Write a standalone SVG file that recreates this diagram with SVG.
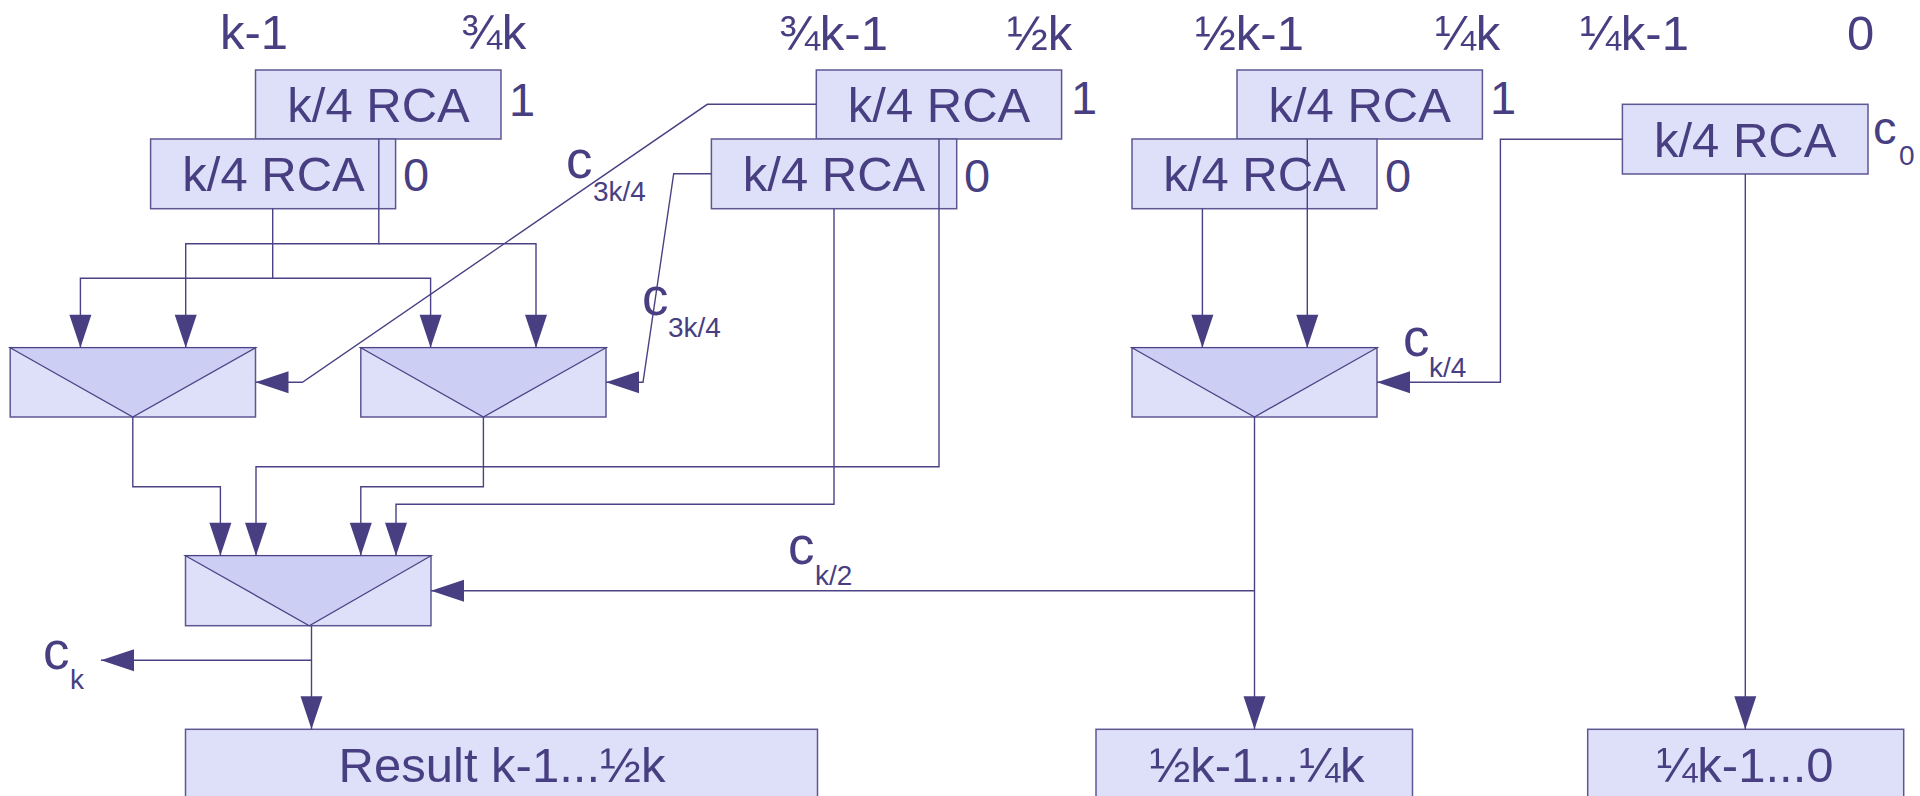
<svg xmlns="http://www.w3.org/2000/svg" width="1920" height="796" viewBox="0 0 1920 796">
<style>
.box{fill:#dedff8;stroke:#5d5794;stroke-width:1.5}
.tri{fill:#cdcef4;stroke:#4a4284;stroke-width:1.3}
.ln{fill:none;stroke:#4a4284;stroke-width:1.4}
.arr{marker-end:url(#ah)}
text{font-family:"Liberation Sans",Arial,sans-serif;fill:#483f82}
.big{font-size:49px}
.lbl{font-size:47px}
.cc{font-size:53px}
.sub{font-size:28px}
.mid{text-anchor:middle}
</style>
<defs>
<marker id="ah" markerUnits="userSpaceOnUse" markerWidth="34" markerHeight="23" refX="33" refY="11" orient="auto" overflow="visible">
<path d="M0,0 L33,11 L0,22 Z" fill="#483f82"/>
</marker>
</defs>
<rect width="1920" height="796" fill="#ffffff"/>

<g id="bit-labels">
<text class="big" x="220" y="49">k-1</text>
<text class="big" x="461" y="49">¾k</text>
<text class="big" x="779" y="50">¾k-1</text>
<text class="big" x="1007" y="50">½k</text>
<text class="big" x="1195" y="50">½k-1</text>
<text class="big" x="1435" y="50">¼k</text>
<text class="big" x="1580" y="50">¼k-1</text>
<text class="big" x="1847" y="50">0</text>
</g>

<g id="rca1-hi">
<rect class="box" x="255.5" y="70" width="245.5" height="69"/>
<text class="big mid" x="378.5" y="122">k/4 RCA</text>
<text class="lbl" x="509" y="116">1</text>
</g>
<g id="rca1-lo">
<rect class="box" x="150.6" y="139" width="245" height="69.7"/>
<text class="big mid" x="273.5" y="191">k/4 RCA</text>
<text class="lbl" x="403" y="191">0</text>
</g>
<g id="rca2-hi">
<rect class="box" x="816.3" y="70" width="245.3" height="69"/>
<text class="big mid" x="939" y="122">k/4 RCA</text>
<text class="lbl" x="1071" y="114">1</text>
</g>
<g id="rca2-lo">
<rect class="box" x="711.4" y="139" width="245.3" height="69.7"/>
<text class="big mid" x="834" y="191">k/4 RCA</text>
<text class="lbl" x="964" y="192">0</text>
</g>
<g id="rca3-hi">
<rect class="box" x="1237" y="70" width="245.4" height="69"/>
<text class="big mid" x="1359.7" y="122">k/4 RCA</text>
<text class="lbl" x="1490" y="114">1</text>
</g>
<g id="rca3-lo">
<rect class="box" x="1132" y="139" width="245" height="69.7"/>
<text class="big mid" x="1254.5" y="191">k/4 RCA</text>
<text class="lbl" x="1385" y="192">0</text>
</g>
<g id="rca4">
<rect class="box" x="1622.4" y="104.3" width="245.6" height="69.7"/>
<text class="big mid" x="1745.2" y="157">k/4 RCA</text>
<text font-size="47" x="1873" y="144">c</text>
<text class="sub" font-size="27" x="1899" y="165">0</text>
</g>

<g id="mux1">
<rect class="box" x="10.2" y="347.7" width="245.3" height="69.3"/>
<polygon class="tri" points="10.2,347.7 132.8,417 255.5,347.7"/>
</g>
<g id="mux2">
<rect class="box" x="360.8" y="347.7" width="245.2" height="69.3"/>
<polygon class="tri" points="360.8,347.7 483.4,417 606,347.7"/>
</g>
<g id="mux3">
<rect class="box" x="1132" y="347.7" width="245" height="69.3"/>
<polygon class="tri" points="1132,347.7 1254.5,417 1377,347.7"/>
</g>
<g id="mux-final">
<rect class="box" x="185.5" y="555.7" width="245.5" height="70"/>
<polygon class="tri" points="185.5,555.7 309.3,625.7 431,555.7"/>
</g>

<g id="result-hi">
<rect class="box" x="185.5" y="729.3" width="632" height="80"/>
<text class="big mid" x="502" y="781.7">Result k-1...½k</text>
</g>
<g id="result-mid">
<rect class="box" x="1096" y="729.3" width="316.5" height="80"/>
<text class="big mid" x="1257" y="781.7">½k-1...¼k</text>
</g>
<g id="result-lo">
<rect class="box" x="1587.7" y="729.3" width="316" height="80"/>
<text class="big mid" x="1745" y="781.7">¼k-1...0</text>
</g>

<g id="connectors">
<path class="ln arr" d="M378.8,139 V243.7 H185.7 V347.7"/>
<path class="ln arr" d="M378.8,243.7 H536 V347.7"/>
<path class="ln arr" d="M272.7,208.7 V278.3 H80.4 V347.7"/>
<path class="ln arr" d="M272.7,278.3 H430.6 V347.7"/>
<path class="ln arr" d="M816.3,104.3 H707.3 L302.4,382.3 H255.5"/>
<path class="ln arr" d="M711.4,173.7 H673.7 L643,382.3 H606"/>
<path class="ln arr" d="M939,139 V466.7 H256 V555.7"/>
<path class="ln arr" d="M834,208.7 V504.3 H396 V555.7"/>
<path class="ln arr" d="M132.8,417 V486.7 H220.4 V555.7"/>
<path class="ln arr" d="M483.4,417 V486.7 H360.8 V555.7"/>
<path class="ln arr" d="M1202.4,208.7 V347.7"/>
<path class="ln arr" d="M1307.3,139 V347.7"/>
<path class="ln arr" d="M1622.4,139.3 H1500.4 V382.3 H1377"/>
<path class="ln arr" d="M1254.5,417 V729.3"/>
<path class="ln arr" d="M1254.5,590.7 H431"/>
<path class="ln arr" d="M1745.3,174 V729.3"/>
<path class="ln arr" d="M311.5,625.7 V729.3"/>
<path class="ln arr" d="M311.5,660.3 H101"/>
</g>

<g id="carry-labels">
<text class="cc" x="566" y="178">c</text>
<text class="sub" font-size="29" x="593" y="200.5">3k/4</text>
<text class="cc" x="642" y="315">c</text>
<text class="sub" font-size="27" x="668" y="336.5">3k/4</text>
<text class="cc" x="1403" y="356">c</text>
<text class="sub" x="1429" y="376.5">k/4</text>
<text class="cc" x="788" y="564">c</text>
<text class="sub" font-size="26" x="815" y="585">k/2</text>
<text class="cc" x="43" y="669">c</text>
<text class="sub" font-size="24" x="70" y="689">k</text>
</g>
</svg>
